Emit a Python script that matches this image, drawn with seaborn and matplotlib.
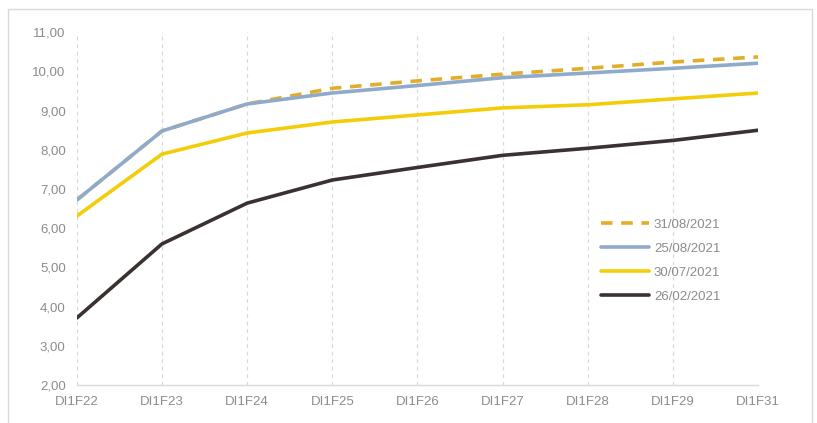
import matplotlib
matplotlib.use("Agg")
import matplotlib.pyplot as plt
import seaborn as sns
import pandas as pd
from matplotlib.patches import Rectangle
from matplotlib.ticker import FuncFormatter, MultipleLocator

categories = ["DI1F22", "DI1F23", "DI1F24", "DI1F25", "DI1F26", "DI1F27", "DI1F28", "DI1F29", "DI1F31"]
s_3108 = [6.72, 8.48, 9.17, 9.57, 9.76, 9.93, 10.08, 10.24, 10.37]
s_2508 = [6.72, 8.48, 9.17, 9.45, 9.64, 9.84, 9.96, 10.08, 10.21]
s_3007 = [6.31, 7.89, 8.43, 8.71, 8.89, 9.07, 9.15, 9.30, 9.45]
s_2602 = [3.71, 5.60, 6.64, 7.23, 7.55, 7.86, 8.04, 8.24, 8.50]
series_names = ["31/08/2021", "25/08/2021", "30/07/2021", "26/02/2021"]
series_values = [s_3108, s_2508, s_3007, s_2602]

rows = []
for name, vals in zip(series_names, series_values):
    for c, v in zip(categories, vals):
        rows.append({"cat": c, "val": v, "serie": name})
df = pd.DataFrame(rows)

sns.set_theme(style="white")
plt.rcParams["font.family"] = ["Liberation Sans", "DejaVu Sans"]

palette = {"31/08/2021": "#E2AE2A", "25/08/2021": "#8FAACB",
           "30/07/2021": "#F4CD0A", "26/02/2021": "#3B3131"}
dashes = {"31/08/2021": (3.2, 2.4), "25/08/2021": "", "30/07/2021": "", "26/02/2021": ""}

fig = plt.figure(figsize=(8.17, 4.23), dpi=100)
ax = fig.add_axes([0.094, 0.0898, 0.834, 0.834])

fig.patches.append(Rectangle((8 / 817, -0.05), (812 - 8) / 817, (423 - 9) / 423 + 0.05,
                             transform=fig.transFigure, fill=False,
                             edgecolor="#D9D9D9", linewidth=1.0))

draw_order = ["26/02/2021", "30/07/2021", "31/08/2021", "25/08/2021"]
sns.lineplot(data=df, x="cat", y="val", hue="serie", style="serie",
             hue_order=draw_order, style_order=draw_order,
             palette=palette, dashes=dashes, linewidth=2.6, ax=ax, sort=False)

ax.set_xlim(0, len(categories) - 1)
ax.set_ylim(2, 11)
ax.yaxis.set_major_locator(MultipleLocator(1))
ax.yaxis.set_major_formatter(FuncFormatter(lambda v, p: f"{v:.2f}".replace(".", ",")))
ax.set_xlabel("")
ax.set_ylabel("")

for i in range(len(categories)):
    ax.axvline(i, color="#D9D9D9", linestyle=(0, (3, 3)), linewidth=0.9, zorder=0)

for s in ["top", "right", "left"]:
    ax.spines[s].set_visible(False)
ax.spines["bottom"].set_color("#D9D9D9")
ax.spines["bottom"].set_linewidth(1.0)
ax.tick_params(axis="both", length=0, colors="#8C8C8C", labelsize=9.5)
ax.tick_params(axis="x", pad=8)
ax.tick_params(axis="y", pad=8)

handles, labels = ax.get_legend_handles_labels()
hmap = dict(zip(labels, handles))
leg = ax.legend([hmap[n] for n in series_names], series_names,
                loc="upper left", bbox_to_anchor=(0.752, 0.505), frameon=False,
                fontsize=9.5, handlelength=3.6, labelspacing=0.88, handletextpad=0.4)
for t in leg.get_texts():
    t.set_color("#8C8C8C")

fig.savefig("out.png", dpi=100)
